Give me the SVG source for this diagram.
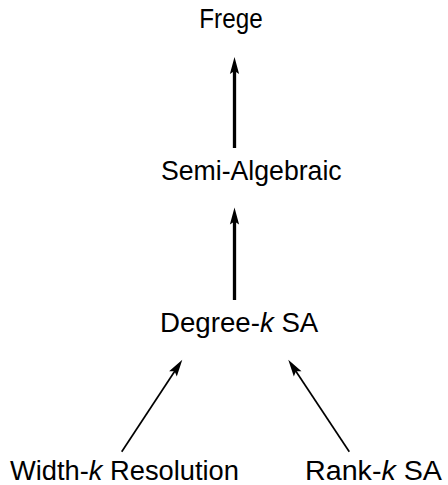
<svg xmlns="http://www.w3.org/2000/svg" width="448" height="485" viewBox="0 0 448 485">
<style>
.lbl{font-family:"Liberation Sans",Arial,sans-serif;font-size:27px;fill:#000}
.it{font-style:italic}
.thick{stroke:#000;stroke-width:3.3;fill:none}
.thin{stroke:#000;stroke-width:1.7;fill:none}
</style>
<defs>
<marker id="ah" markerUnits="userSpaceOnUse" markerWidth="20" markerHeight="12" viewBox="-6 -6 20 12" refX="0" refY="0" orient="auto" overflow="visible">
<path d="M12,0 L-5,-4.6 L-2,0 L-5,4.6 Z" fill="#000"/>
</marker>
</defs>
<g id="connectors">
<line class="thick" x1="234.5" y1="148" x2="234.5" y2="69" marker-end="url(#ah)"/>
<line class="thick" x1="234.5" y1="300" x2="234.5" y2="219.5" marker-end="url(#ah)"/>
<line class="thin" x1="121.7" y1="451.7" x2="175.7" y2="369.7" marker-end="url(#ah)"/>
<line class="thin" x1="349.3" y1="451.7" x2="294.9" y2="369.7" marker-end="url(#ah)"/>
</g>
<g id="frege"><text class="lbl" x="199.3" y="28" textLength="63.4" lengthAdjust="spacingAndGlyphs">Frege</text></g>
<g id="semialgebraic"><text class="lbl" x="161" y="180" textLength="180.7" lengthAdjust="spacingAndGlyphs">Semi-Algebraic</text></g>
<g id="degreek"><text class="lbl" x="160" y="331.7" textLength="158.3" lengthAdjust="spacingAndGlyphs">Degree-<tspan class="it">k</tspan> SA</text></g>
<g id="widthk"><text class="lbl" x="10" y="480" textLength="229" lengthAdjust="spacingAndGlyphs">Width-<tspan class="it">k</tspan> Resolution</text></g>
<g id="rankk"><text class="lbl" x="305" y="480" textLength="137" lengthAdjust="spacingAndGlyphs">Rank-<tspan class="it">k</tspan> SA</text></g>
</svg>
